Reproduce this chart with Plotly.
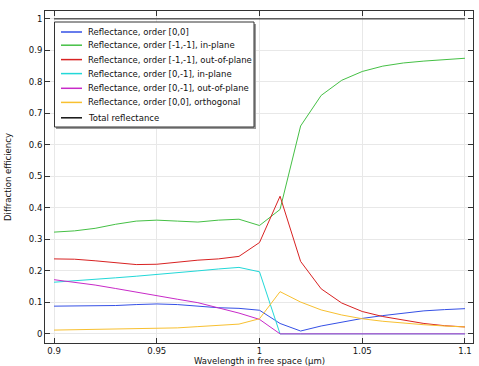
import plotly.graph_objects as go

wavelength = [0.90, 0.91, 0.92, 0.93, 0.94, 0.95, 0.96, 0.97, 0.98, 0.99, 1.00,
              1.01, 1.02, 1.03, 1.04, 1.05, 1.06, 1.07, 1.08, 1.09, 1.10]

r00 = [0.088, 0.088, 0.088, 0.090, 0.093, 0.095, 0.093, 0.088, 0.083, 0.081, 0.075,
       0.033, 0.009, 0.025, 0.038, 0.049, 0.058, 0.066, 0.073, 0.077, 0.080]
r11_in = [0.323, 0.327, 0.335, 0.348, 0.358, 0.361, 0.358, 0.355, 0.361, 0.364, 0.344,
          0.395, 0.660, 0.757, 0.805, 0.833, 0.850, 0.860, 0.866, 0.870, 0.875]
r11_out = [0.238, 0.237, 0.232, 0.225, 0.220, 0.221, 0.228, 0.234, 0.238, 0.246, 0.290,
           0.437, 0.230, 0.143, 0.098, 0.071, 0.055, 0.043, 0.033, 0.026, 0.022]
r01_in = [0.164, 0.168, 0.173, 0.178, 0.183, 0.188, 0.194, 0.200, 0.206, 0.211, 0.197,
          0.0, 0.0, 0.0, 0.0, 0.0, 0.0, 0.0, 0.0, 0.0, 0.0]
r01_out = [0.172, 0.164, 0.155, 0.144, 0.132, 0.121, 0.110, 0.099, 0.083, 0.066, 0.046,
           0.0, 0.0, 0.0, 0.0, 0.0, 0.0, 0.0, 0.0, 0.0, 0.0]
r00_orth = [0.012, 0.013, 0.014, 0.015, 0.015, 0.016, 0.019, 0.023, 0.027, 0.031, 0.048,
            0.134, 0.101, 0.076, 0.060, 0.048, 0.040, 0.034, 0.029, 0.025, 0.022]
total = [1.0] * 21

series_names = [
    "Reflectance, order [0,0]",
    "Reflectance, order [-1,-1], in-plane",
    "Reflectance, order [-1,-1], out-of-plane",
    "Reflectance, order [0,-1], in-plane",
    "Reflectance, order [0,-1], out-of-plane",
    "Reflectance, order [0,0], orthogonal",
    "Total reflectance",
]
series_values = [r00, r11_in, r11_out, r01_in, r01_out, r00_orth, total]
series_colors = ["#3550e6", "#45c045", "#d82222", "#22d8d8", "#c82ac8", "#f8c030", "#111111"]

x_ticks = [0.9, 0.95, 1.0, 1.05, 1.1]
x_ticktext = ["0.9", "0.95", "1", "1.05", "1.1"]
y_ticks = [0, 0.1, 0.2, 0.3, 0.4, 0.5, 0.6, 0.7, 0.8, 0.9, 1.0]
y_ticktext = ["0", "0.1", "0.2", "0.3", "0.4", "0.5", "0.6", "0.7", "0.8", "0.9", "1"]

W, H = 479, 366
L, R, T, B = 45, 473, 11, 343  # plot frame in pixels


def px(xp):
    return (xp - L) / (R - L)


def py(yp):
    return (B - yp) / (B - T)


fig = go.Figure()
for name, vals, col in zip(series_names, series_values, series_colors):
    fig.add_trace(go.Scatter(x=wavelength, y=vals, mode="lines", name=name,
                             line=dict(color=col, width=1), showlegend=False))

font = "DejaVu Sans, Arial, sans-serif"
fs = 8.5

shapes = []
annotations = []
# legend shadow + box
shapes.append(dict(type="rect", xref="paper", yref="paper",
                   x0=px(56), x1=px(256), y0=py(24), y1=py(129),
                   fillcolor="#999999", line=dict(width=0), layer="above"))
shapes.append(dict(type="rect", xref="paper", yref="paper",
                   x0=px(54.5), x1=px(254), y0=py(22), y1=py(127),
                   fillcolor="white", line=dict(color="#333333", width=1), layer="above"))
row_y = [32, 45.2, 59.6, 73.6, 88.3, 102.4, 117.8]
for name, col, yy in zip(series_names, series_colors, row_y):
    shapes.append(dict(type="line", xref="paper", yref="paper",
                       x0=px(61), x1=px(82), y0=py(yy), y1=py(yy),
                       line=dict(color=col, width=1.5), layer="above"))
    annotations.append(dict(text=name, xref="paper", yref="paper",
                            x=px(85.5), y=py(yy), xanchor="left", yanchor="middle",
                            showarrow=False, font=dict(size=fs, color="#111")))

# axis titles
annotations.append(dict(text="Wavelength in free space (µm)", xref="paper", yref="paper",
                        x=0.5, y=py(360.5), xanchor="center", yanchor="middle",
                        showarrow=False, font=dict(size=fs, color="#111")))
annotations.append(dict(text="Diffraction efficiency", xref="paper", yref="paper",
                        x=px(8), y=0.5, xanchor="center", yanchor="middle", textangle=-90,
                        showarrow=False, font=dict(size=fs, color="#111")))

fig.update_layout(
    width=W, height=H,
    margin=dict(l=L, r=W - R, t=T, b=H - B, pad=0),
    paper_bgcolor="white", plot_bgcolor="white",
    font=dict(family=font, size=fs, color="#111"),
    showlegend=False,
    shapes=shapes, annotations=annotations,
    xaxis=dict(range=[0.8956, 1.1039], tickvals=x_ticks, ticktext=x_ticktext,
               showgrid=True, gridcolor="#e8e8e8", gridwidth=1,
               ticks="inside", ticklen=5, tickcolor="#333", mirror="ticks",
               showline=True, linecolor="#333", linewidth=1, zeroline=False,
               automargin=False, tickfont=dict(size=fs)),
    yaxis=dict(range=[-0.029, 1.025], tickvals=y_ticks, ticktext=y_ticktext,
               showgrid=True, gridcolor="#e8e8e8", gridwidth=1,
               ticks="inside", ticklen=5, tickcolor="#333", mirror="ticks",
               showline=True, linecolor="#333", linewidth=1, zeroline=False,
               automargin=False, tickfont=dict(size=fs)),
)

fig.write_html("out.html", config={"displayModeBar": False},
               post_script="document.body.style.margin='0';document.body.style.overflow='hidden';")
